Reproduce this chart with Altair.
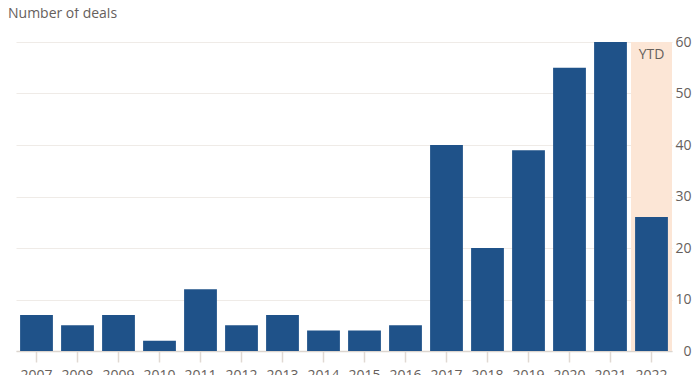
import altair as alt
import pandas as pd

years = ["2007", "2008", "2009", "2010", "2011", "2012", "2013", "2014",
         "2015", "2016", "2017", "2018", "2019", "2020", "2021", "2022"]
deals = [7, 5, 7, 2, 12, 5, 7, 4, 4, 5, 40, 20, 39, 55, 60, 26]

ytd_year = ["2022"]
ytd_top = [60]
ytd_label = ["YTD"]

y_ticks = [0, 10, 20, 30, 40, 50, 60]

df = pd.DataFrame({"year": years, "deals": deals})
ytd = pd.DataFrame({"year": ytd_year, "top": ytd_top, "label": ytd_label})

FONT = "Open Sans"
TXT = "#66605c"

x_enc = alt.X(
    "year:N",
    sort=years,
    scale=alt.Scale(domain=years, paddingInner=0.2, paddingOuter=0.1),
    axis=alt.Axis(
        title=None, labelAngle=0, labelFontSize=14, labelColor=TXT, labelFont=FONT,
        tickColor="#e0d9d3", tickSize=11, tickWidth=1.5,
        domainColor="#dcd5cf", domainWidth=1.5, labelPadding=6,
    ),
)

y_scale = alt.Scale(domain=[0, 60], nice=False)
y_axis = alt.Axis(
    title=None, orient="right", values=y_ticks, grid=True, gridColor="#efebe7",
    ticks=False, tickSize=0, domain=False, labelAlign="right", labelPadding=19,
    labelFontSize=14, labelColor=TXT, labelFont=FONT, labelBaseline="middle",
)

shade = alt.Chart(ytd).mark_bar(
    color="#fce6d6", width=alt.RelativeBandSize(1.25)
).encode(
    x=x_enc,
    y=alt.Y("top:Q", scale=y_scale, axis=y_axis),
)

ytd_text = alt.Chart(ytd).mark_text(
    baseline="top", dy=6, fontSize=14, color=TXT, font=FONT
).encode(
    x=x_enc,
    y=alt.Y("top:Q", scale=y_scale, axis=y_axis),
    text="label:N",
)

bars = alt.Chart(df).mark_bar(color="#1f5289").encode(
    x=x_enc,
    y=alt.Y("deals:Q", scale=y_scale, axis=y_axis),
)

chart = alt.layer(shade, ytd_text, bars).properties(
    width=656,
    height=309,
    autosize=alt.AutoSizeParams(type="none"),
    padding={"left": 8, "top": 34, "right": 20, "bottom": 30},
    title=alt.TitleParams(
        "Number of deals", anchor="start", fontSize=14, color=TXT,
        fontWeight="normal", font=FONT, dx=-8, offset=14,
    ),
    background="white",
).configure_view(stroke=None)

chart.save("out.html", embed_options={"renderer": "svg", "actions": False})
